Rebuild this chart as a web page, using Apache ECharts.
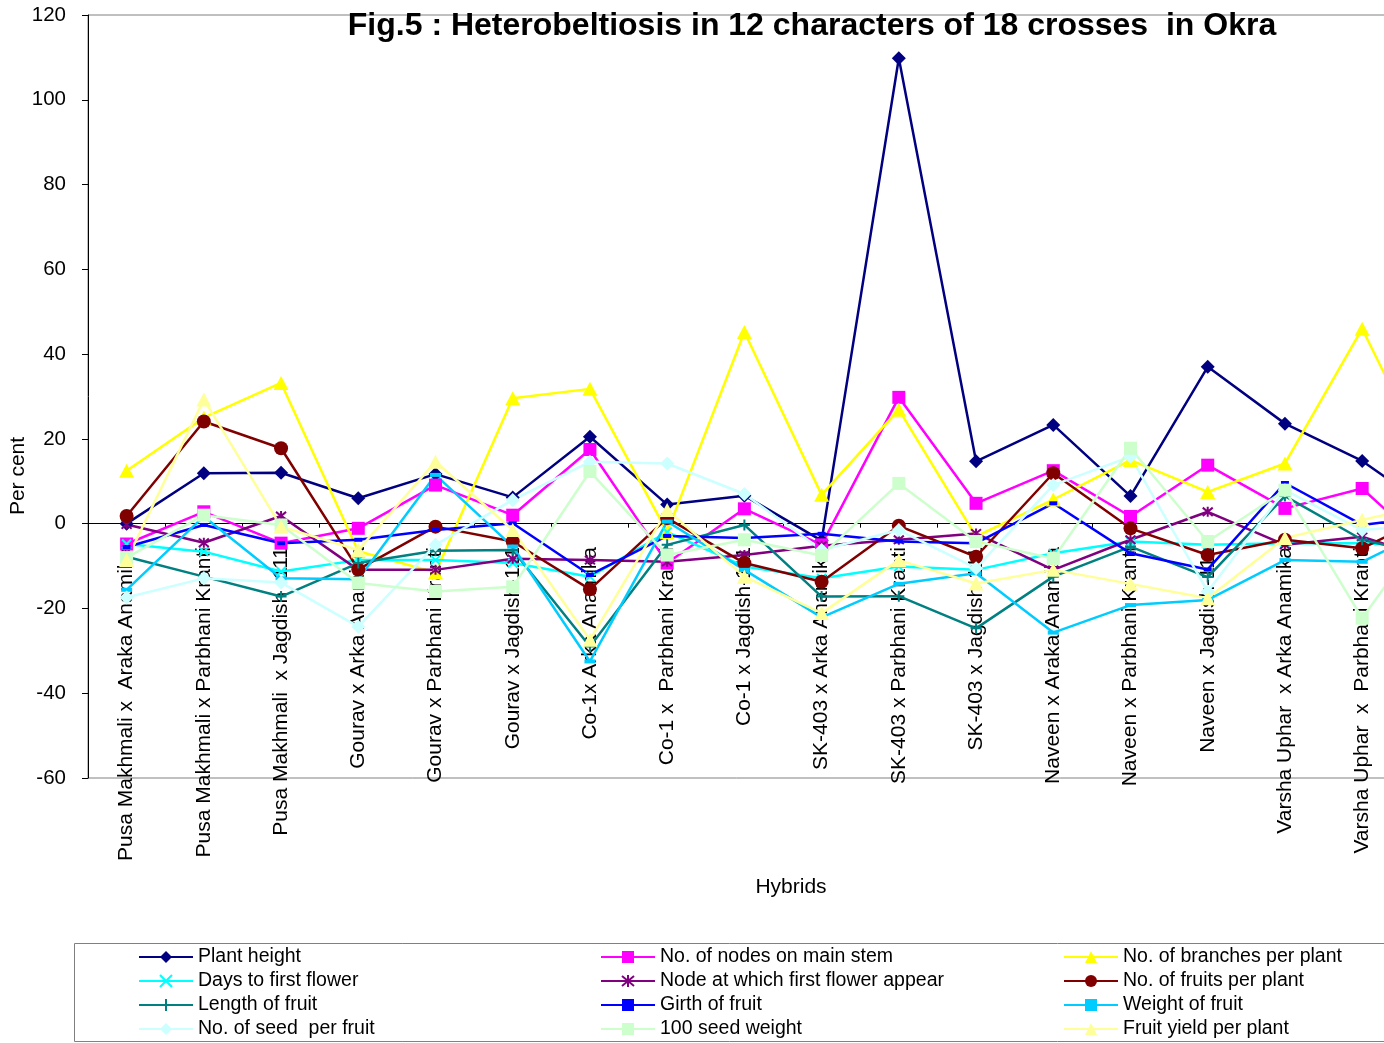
<!DOCTYPE html>
<html>
<head>
<meta charset="utf-8">
<title>Heterobeltiosis in Okra</title>
<script src="https://cdn.jsdelivr.net/npm/echarts@6/dist/echarts.min.js"></script>
<style>
  html, body { margin: 0; padding: 0; background: #fff; overflow: hidden; }
  #chart { width: 1384px; height: 1043px; }
</style>
</head>
<body>
<div id="chart"></div>
<script>
// Crosses (hybrids) on the category axis
const categories = [
  'Pusa Makhmali x  Araka Anamika',
  'Pusa Makhmali x Parbhani Kranti',
  'Pusa Makhmali  x Jagdish -111',
  'Gourav x Arka Anamika',
  'Gourav x Parbhani Kranti',
  'Gourav x Jagdish-111',
  'Co-1x Arka Anamika',
  'Co-1 x  Parbhani Kranti',
  'Co-1 x Jagdish-111',
  'SK-403 x Arka Anamika',
  'SK-403 x Parbhani Kranti',
  'SK-403 x Jagdish-111',
  'Naveen x Araka Anamika',
  'Naveen x Parbhani Kranti',
  'Naveen x Jagdish-111',
  'Varsha Uphar  x Arka Anamika',
  'Varsha Uphar  x  Parbhani Kranti',
  'Varsha Uphar x Jagdish-111'
];

// Heterobeltiosis (per cent) for each character, one value per cross
const plantHeight      = [0, 11.9, 12, 6, 11.7, 6.2, 20.5, 4.5, 6.6, -4, 109.8, 14.7, 23.3, 6.5, 37, 23.6, 14.8, 2];
const nodesMainStem    = [-4.8, 2.8, -4.6, -1.1, 9.1, 2.0, 17.5, -9.3, 3.5, -5.0, 29.8, 4.8, 12.5, 1.7, 13.8, 3.6, 8.3, -8.3];
const branchesPerPlant = [12.5, 25, 33.2, -6.5, -11.5, 29.6, 31.8, -2, 45.2, 6.8, 26.9, -3, 5.7, 15, 7.5, 14.2, 46, 9];
const daysFirstFlower  = [-4.8, -6.6, -11.3, -8.6, -8.6, -9.3, -12.5, -2, -10.1, -12.9, -10.1, -10.9, -7.0, -4.2, -5.0, -4.6, -4.6, -5.5];
const nodeFirstFlower  = [-0.2, -4.5, 1.8, -10.9, -10.9, -8.3, -8.6, -9.0, -7.4, -5.2, -3.8, -2.3, -10.9, -3.8, 2.8, -5.0, -3.1, -9];
const fruitsPerPlant   = [1.8, 24.1, 17.8, -10.8, -0.7, -4.2, -15.5, 1.3, -9.3, -13.7, -0.5, -7.8, 11.9, -1.1, -7.4, -3.8, -5.8, 3];
const lengthOfFruit    = [-7.8, -12.5, -17.2, -9.3, -6.4, -6.2, -29.0, -5.0, -0.3, -17.2, -17.1, -24.7, -12.5, -5.4, -12.6, 6.5, -3.8, -8];
const girthOfFruit     = [-5.5, -0.3, -4.6, -3.8, -1.5, 0.1, -12.1, -2.9, -3.4, -2.4, -4.2, -4.6, 4.8, -7.0, -10.8, 9.6, -0.3, 2];
const weightOfFruit    = [-15.6, 1.7, -12.9, -13.1, 11.5, -5.4, -32.5, 0.5, -10.9, -22.1, -14.2, -11.7, -25.7, -19.2, -18.0, -8.6, -9.0, 0];
const seedsPerFruit    = [-17.4, -12.9, -13.9, -24.3, -5.0, 5.6, 14.6, 14.2, 7.0, -6.2, -1.5, -10.5, 9.1, 15.8, -16.0, 7.9, -1.5, 0];
const seedWeight100    = [-8, 2.0, -0.3, -14, -16.0, -14.9, 12.3, -7.4, -3.8, -7.5, 9.5, -4.2, -8.2, 17.8, -4.2, 7.9, -22.3, 3];
const fruitYield       = [-8.6, 29.3, -0.7, -6.2, 14.6, -1.5, -27.4, 3.2, -12.5, -21.1, -8.6, -14.1, -10.9, -14.2, -17.6, -3.4, 0.9, 5];

// Value axis range and step
const yMin = -60, yMax = 120, yStep = 20;

const FONT = "'Liberation Sans', Arial, Helvetica, sans-serif";

// Open marker shapes (drawn as strokes)
const CROSS = 'path://M0,0L10,10M10,0L0,10';
const ASTERISK = 'path://M0,0L10,10M10,0L0,10M5,-1L5,11';
const PLUS = 'path://M5,0L5,10M0,5L10,5';

const seriesDefs = [
  { name: 'Plant height',                     data: plantHeight,      color: '#000080', symbol: 'diamond',  size: 14 },
  { name: 'No. of nodes on main stem',        data: nodesMainStem,    color: '#FF00FF', symbol: 'rect',     size: 13 },
  { name: 'No. of branches per plant',        data: branchesPerPlant, color: '#FFFF00', symbol: 'triangle', size: [15, 14] },
  { name: 'Days to first flower',             data: daysFirstFlower,  color: '#00FFFF', symbol: CROSS,      size: 9,  stroke: true },
  { name: 'Node at which first flower appear', data: nodeFirstFlower, color: '#800080', symbol: ASTERISK,   size: 10, stroke: true },
  { name: 'No. of fruits per plant',          data: fruitsPerPlant,   color: '#800000', symbol: 'circle',   size: 14 },
  { name: 'Length of fruit',                  data: lengthOfFruit,    color: '#008080', symbol: PLUS,       size: 11, stroke: true },
  { name: 'Girth of fruit',                   data: girthOfFruit,     color: '#0000FF', symbol: 'rect',     size: [8, 4] },
  { name: 'Weight of fruit',                  data: weightOfFruit,    color: '#00CCFF', symbol: 'rect',     size: [11, 4] },
  { name: 'No. of seed  per fruit',           data: seedsPerFruit,    color: '#CCFFFF', symbol: 'diamond',  size: 14 },
  { name: '100 seed weight',                  data: seedWeight100,    color: '#CCFFCC', symbol: 'rect',     size: 13 },
  { name: 'Fruit yield per plant',            data: fruitYield,       color: '#FFFF99', symbol: 'triangle', size: [15, 14] }
];

const series = seriesDefs.map(d => ({
  name: d.name,
  type: 'line',
  data: d.data,
  symbol: d.symbol,
  symbolSize: d.size,
  showAllSymbol: true,
  lineStyle: { color: d.color, width: 2.5 },
  itemStyle: d.stroke
    ? { color: d.color, borderColor: d.color, borderWidth: 2 }
    : { color: d.color, borderWidth: 0 },
  emphasis: { disabled: true }
}));

// Legend laid out in three columns of four entries
const legendColumns = [
  { left: 138,  names: [0, 3, 6, 9] },
  { left: 600,  names: [1, 4, 7, 10] },
  { left: 1063, names: [2, 5, 8, 11] }
];
const legends = legendColumns.map(col => ({
  orient: 'vertical',
  left: col.left,
  top: 945,
  padding: 0,
  itemGap: 0,
  itemWidth: 54,
  itemHeight: 15,
  selectedMode: false,
  data: col.names.map(i => seriesDefs[i].name),
  textStyle: { fontFamily: FONT, fontSize: 19.5, color: '#000', lineHeight: 24 }
}));

const chart = echarts.init(document.getElementById('chart'), null, { renderer: 'canvas' });

chart.setOption({
  animation: false,
  backgroundColor: '#fff',
  title: {
    text: 'Fig.5 : Heterobeltiosis in 12 characters of 18 crosses  in Okra',
    left: 812,
    top: 10,
    padding: 0,
    textAlign: 'center',
    textStyle: { fontFamily: FONT, fontSize: 32, fontWeight: 'bold', color: '#000' }
  },
  legend: legends,
  grid: {
    left: 88,
    top: 15,
    right: -94,
    bottom: 265,
    containLabel: false,
    outerBoundsMode: 'none',
    show: true,
    borderColor: '#808080',
    borderWidth: 1,
    backgroundColor: 'transparent'
  },
  xAxis: {
    type: 'category',
    data: categories,
    boundaryGap: true,
    axisLine: { onZero: true, lineStyle: { color: '#000', width: 1 } },
    axisTick: { show: true, inside: false, length: 4, lineStyle: { color: '#000' } },
    axisLabel: {
      interval: 0,
      rotate: 90,
      // labels hang just below the zero line
      margin: -231,
      fontFamily: FONT,
      fontSize: 21,
      color: '#000'
    },
    splitLine: { show: false }
  },
  yAxis: {
    type: 'value',
    min: yMin,
    max: yMax,
    interval: yStep,
    axisLine: { show: true, onZero: false, lineStyle: { color: '#000', width: 1 } },
    axisTick: { show: true, inside: false, length: 6, lineStyle: { color: '#000' } },
    axisLabel: { margin: 22, fontFamily: FONT, fontSize: 20.5, color: '#000' },
    splitLine: { show: false }
  },
  graphic: [
    {
      type: 'text',
      x: 18, y: 476,
      rotation: Math.PI / 2,
      style: { text: 'Per cent', fontFamily: FONT, fontSize: 21, fill: '#000', align: 'center', verticalAlign: 'middle' }
    },
    {
      type: 'text',
      x: 791, y: 887,
      style: { text: 'Hybrids', fontFamily: FONT, fontSize: 21, fill: '#000', align: 'center', verticalAlign: 'middle' }
    },
    {
      type: 'rect',
      z: -1,
      shape: { x: 74.5, y: 943.5, width: 1400, height: 98 },
      style: { fill: 'none', stroke: '#808080', lineWidth: 1 }
    }
  ],
  series: series
});
</script>
</body>
</html>
